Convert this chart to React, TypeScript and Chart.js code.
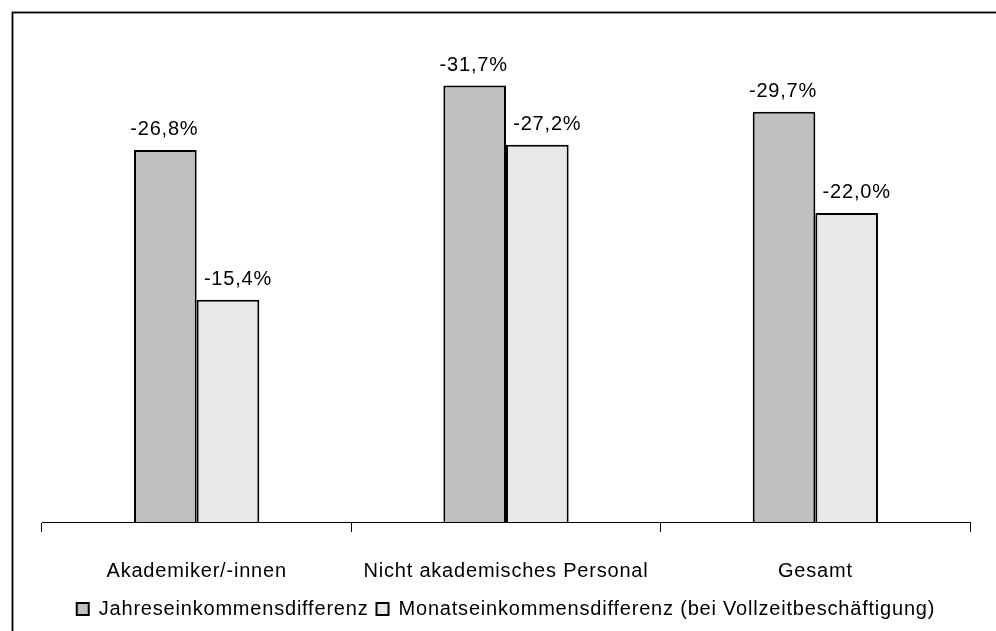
import React, { useEffect, useRef } from 'react';
import { Chart, registerables } from 'chart.js';

Chart.register(...registerables);

const categories = ['Akademiker/-innen', 'Nicht akademisches Personal', 'Gesamt'];
const seriesNames = ['Jahreseinkommensdifferenz', 'Monatseinkommensdifferenz (bei Vollzeitbeschäftigung)'];
const jahresValues = [-26.8, -31.7, -29.7];
const monatsValues = [-15.4, -27.2, -22.0];
const axisTop = -36;
const axisCross = 1.5;

const FONT = "'Liberation Sans', Arial, sans-serif";
const SPACING = '0.8px';
const LABEL_SHIFT = [-1, 10];

const fmt = (v: number) => v.toFixed(1).replace('.', ',') + '%';

const spacingPlugin = {
  id: 'spacing',
  beforeUpdate(chart: any) { chart.ctx.letterSpacing = SPACING; },
  beforeDraw(chart: any) { chart.ctx.letterSpacing = SPACING; },
};

const labelPlugin = {
  id: 'valueLabels',
  afterDatasetsDraw(chart: any) {
    const ctx = chart.ctx;
    ctx.save();
    ctx.letterSpacing = SPACING;
    ctx.font = `20px ${FONT}`;
    ctx.fillStyle = '#000';
    ctx.textAlign = 'center';
    ctx.textBaseline = 'alphabetic';
    chart.data.datasets.forEach((ds: any, i: number) => {
      const meta = chart.getDatasetMeta(i);
      meta.data.forEach((el: any, j: number) => {
        ctx.fillText(fmt(ds.data[j]), el.x + LABEL_SHIFT[i], el.y - 15);
      });
    });
    ctx.restore();
  },
};

const framePlugin = {
  id: 'frame',
  afterDraw(chart: any) {
    const ctx = chart.ctx;
    ctx.save();
    ctx.strokeStyle = '#000';
    ctx.lineWidth = 1.8;
    ctx.strokeRect(12.5, 12.5, chart.width + 20, chart.height + 20);
    ctx.restore();
  },
};

export default function App() {
  const ref = useRef<HTMLCanvasElement>(null);
  useEffect(() => {
    if (!ref.current) return;
    const chart = new Chart(ref.current, {
      type: 'bar',
      data: {
        labels: categories,
        datasets: [
          {
            label: seriesNames[0],
            data: jahresValues,
            backgroundColor: '#c0c0c0',
            borderColor: '#000',
            borderWidth: 2,
            base: axisCross,
            categoryPercentage: 0.405,
            barPercentage: 1,
          } as any,
          {
            label: seriesNames[1],
            data: monatsValues,
            backgroundColor: '#e8e8e8',
            borderColor: '#000',
            borderWidth: 2,
            base: axisCross,
            categoryPercentage: 0.405,
            barPercentage: 1,
          } as any,
        ],
      },
      options: {
        responsive: false,
        animation: false,
        events: [],
        layout: { padding: { left: 42, right: 26, top: 29, bottom: 2 } },
        font: { family: FONT, size: 20 },
        color: '#000',
        plugins: {
          legend: {
            position: 'bottom',
            labels: {
              boxWidth: 12,
              boxHeight: 12,
              padding: 8,
              color: '#000',
              font: { family: FONT, size: 20 },
            },
          },
          tooltip: { enabled: false },
        },
        scales: {
          x: {
            offset: true,
            grid: {
              display: true,
              offset: true,
              drawOnChartArea: false,
              drawTicks: true,
              tickLength: 10,
              color: '#000',
              lineWidth: 1,
            },
            border: { display: true, color: '#000', width: 1 },
            ticks: {
              color: '#000',
              font: { family: FONT, size: 20 },
              padding: 27,
              maxRotation: 0,
              autoSkip: false,
            },
            afterFit: (scale: any) => { scale.height = 69; },
          },
          y: {
            display: false,
            reverse: true,
            min: axisTop,
            max: axisCross,
          },
        },
      },
      plugins: [spacingPlugin, labelPlugin, framePlugin],
    });
    return () => chart.destroy();
  }, []);
  return (
    <div style={{ position: 'fixed', left: 0, top: 0, width: 996, height: 631, background: '#fff' }}>
      <canvas ref={ref} width={996} height={631} style={{ display: 'block' }} />
    </div>
  );
}
